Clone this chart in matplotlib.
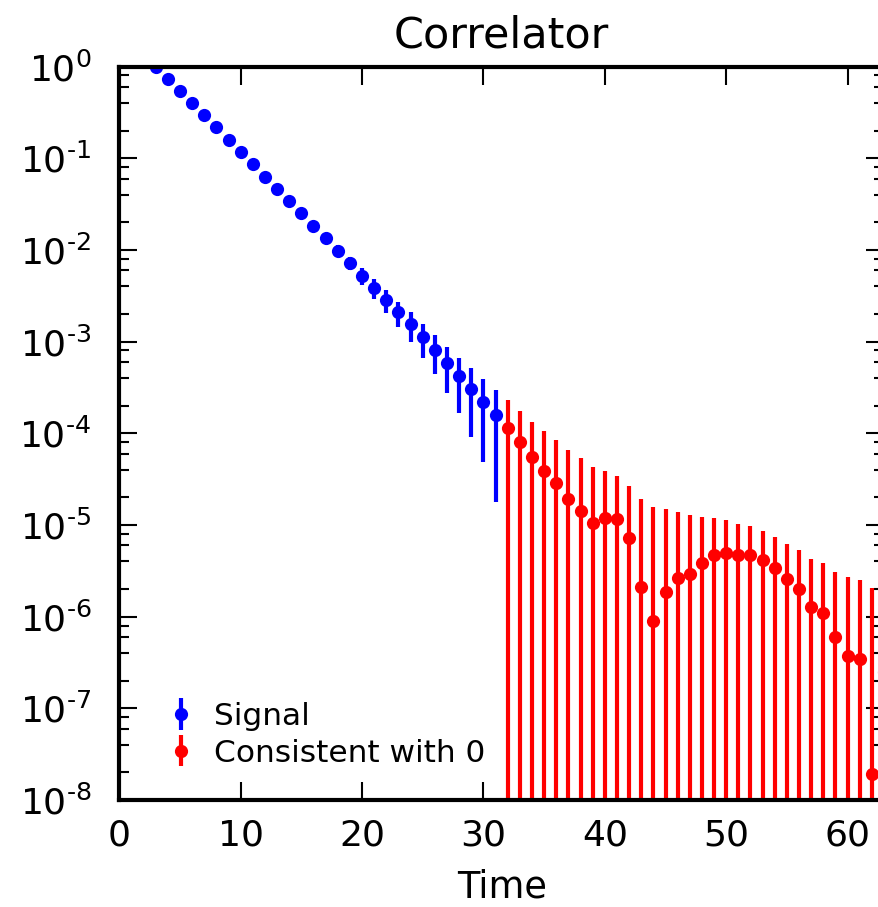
import numpy as np
import matplotlib.pyplot as plt
from matplotlib.ticker import LogLocator, NullLocator, FuncFormatter

plt.rcParams['font.family'] = ['DejaVu Sans']
plt.rcParams['axes.unicode_minus'] = False

# time slices where the correlator is clearly non-zero
t_signal = list(range(3, 32))
c_signal = [1.0, 0.732, 0.546, 0.404, 0.297, 0.219, 0.160, 0.117, 0.0860, 0.0630,
            0.0466, 0.0342, 0.0251, 0.0184, 0.0134, 0.00982, 0.00722, 0.00524,
            0.00386, 0.00284, 0.00208, 0.00154, 0.00111, 0.000808, 0.000578,
            0.000418, 0.000303, 0.000220, 0.000158]
e_signal = [0.004, 0.0037, 0.0033, 0.0032, 0.003, 0.0028, 0.0027, 0.0026, 0.0024,
            0.0022, 0.0021, 0.0019, 0.00176, 0.00156, 0.00147, 0.00137, 0.00123,
            0.00109, 0.00093, 0.00077, 0.00065, 0.00054, 0.00044, 0.000367,
            0.000304, 0.000252, 0.000211, 0.000172, 0.000140]

# time slices where the error bar reaches zero
t_zero = list(range(32, 64))
c_zero = [1.154e-4, 8.0e-5, 5.49e-5, 3.92e-5, 2.90e-5, 1.927e-5, 1.436e-5, 1.062e-5,
          1.205e-5, 1.156e-5, 7.23e-6, 2.10e-6, 9.06e-7, 1.864e-6, 2.67e-6, 2.93e-6,
          3.83e-6, 4.75e-6, 4.96e-6, 4.69e-6, 4.72e-6, 4.16e-6, 3.40e-6, 2.60e-6,
          1.995e-6, 1.27e-6, 1.10e-6, 6.07e-7, 3.74e-7, 3.49e-7, 1.93e-8, 2.50e-7]
e_zero = [1.16e-4, 9.7e-5, 7.94e-5, 6.70e-5, 5.58e-5, 4.66e-5, 3.91e-5, 3.27e-5,
          2.72e-5, 2.30e-5, 1.97e-5, 1.70e-5, 1.484e-5, 1.30e-5, 1.123e-5, 9.86e-6,
          8.52e-6, 7.30e-6, 6.41e-6, 5.67e-6, 5.05e-6, 4.46e-6, 3.96e-6, 3.62e-6,
          3.27e-6, 3.00e-6, 2.73e-6, 2.47e-6, 2.30e-6, 2.17e-6, 2.03e-6, 1.90e-6]


def decade_label(v, pos):
    # short hyphen in the exponent instead of the mathtext minus
    n = int(round(np.log10(v)))
    if n < 0:
        return r'$\mathdefault{10^{\text{-}%d}}$' % (-n)
    return r'$\mathdefault{10^{%d}}$' % n


fig = plt.figure(figsize=(8.79, 9.07), dpi=100)
ax = fig.add_axes([0.1357, 0.1180, 0.8700, 0.8086])

style = dict(fmt='o', markersize=9.5, elinewidth=3, capsize=0, markeredgewidth=0)
ax.errorbar(t_signal, c_signal, yerr=e_signal, color='#0000ff', label='Signal', **style)
ax.errorbar(t_zero, c_zero, yerr=e_zero, color='#ff0000', label='Consistent with 0', **style)

ax.set_yscale('log')
ax.set_xlim(0, 63)
ax.set_ylim(1e-8, 1)
ax.set_xticks([0, 10, 20, 30, 40, 50, 60])
ax.xaxis.set_minor_locator(NullLocator())
ax.yaxis.set_major_locator(LogLocator(base=10, numticks=20))
ax.yaxis.set_minor_locator(LogLocator(base=10, subs=[2, 4, 6, 8], numticks=20))
ax.yaxis.set_major_formatter(FuncFormatter(decade_label))

for s in ax.spines.values():
    s.set_linewidth(3)
ax.tick_params(which='both', direction='in', top=True, right=True, width=1.5)
ax.tick_params(which='major', length=13, labelsize=26)
ax.tick_params(which='minor', length=7)
ax.tick_params(axis='x', which='major', pad=13)
ax.tick_params(axis='y', which='major', pad=20)

ax.set_title('Correlator', fontsize=31, pad=14)
ax.set_xlabel('Time', fontsize=26.5, labelpad=12)

ax.legend(loc='lower left', bbox_to_anchor=(0.046, 0.027), borderaxespad=0,
          frameon=False, fontsize=22.5, numpoints=1,
          handlelength=0.9, handletextpad=0.6, labelspacing=0.25)

fig.savefig('out.png', dpi=100)
